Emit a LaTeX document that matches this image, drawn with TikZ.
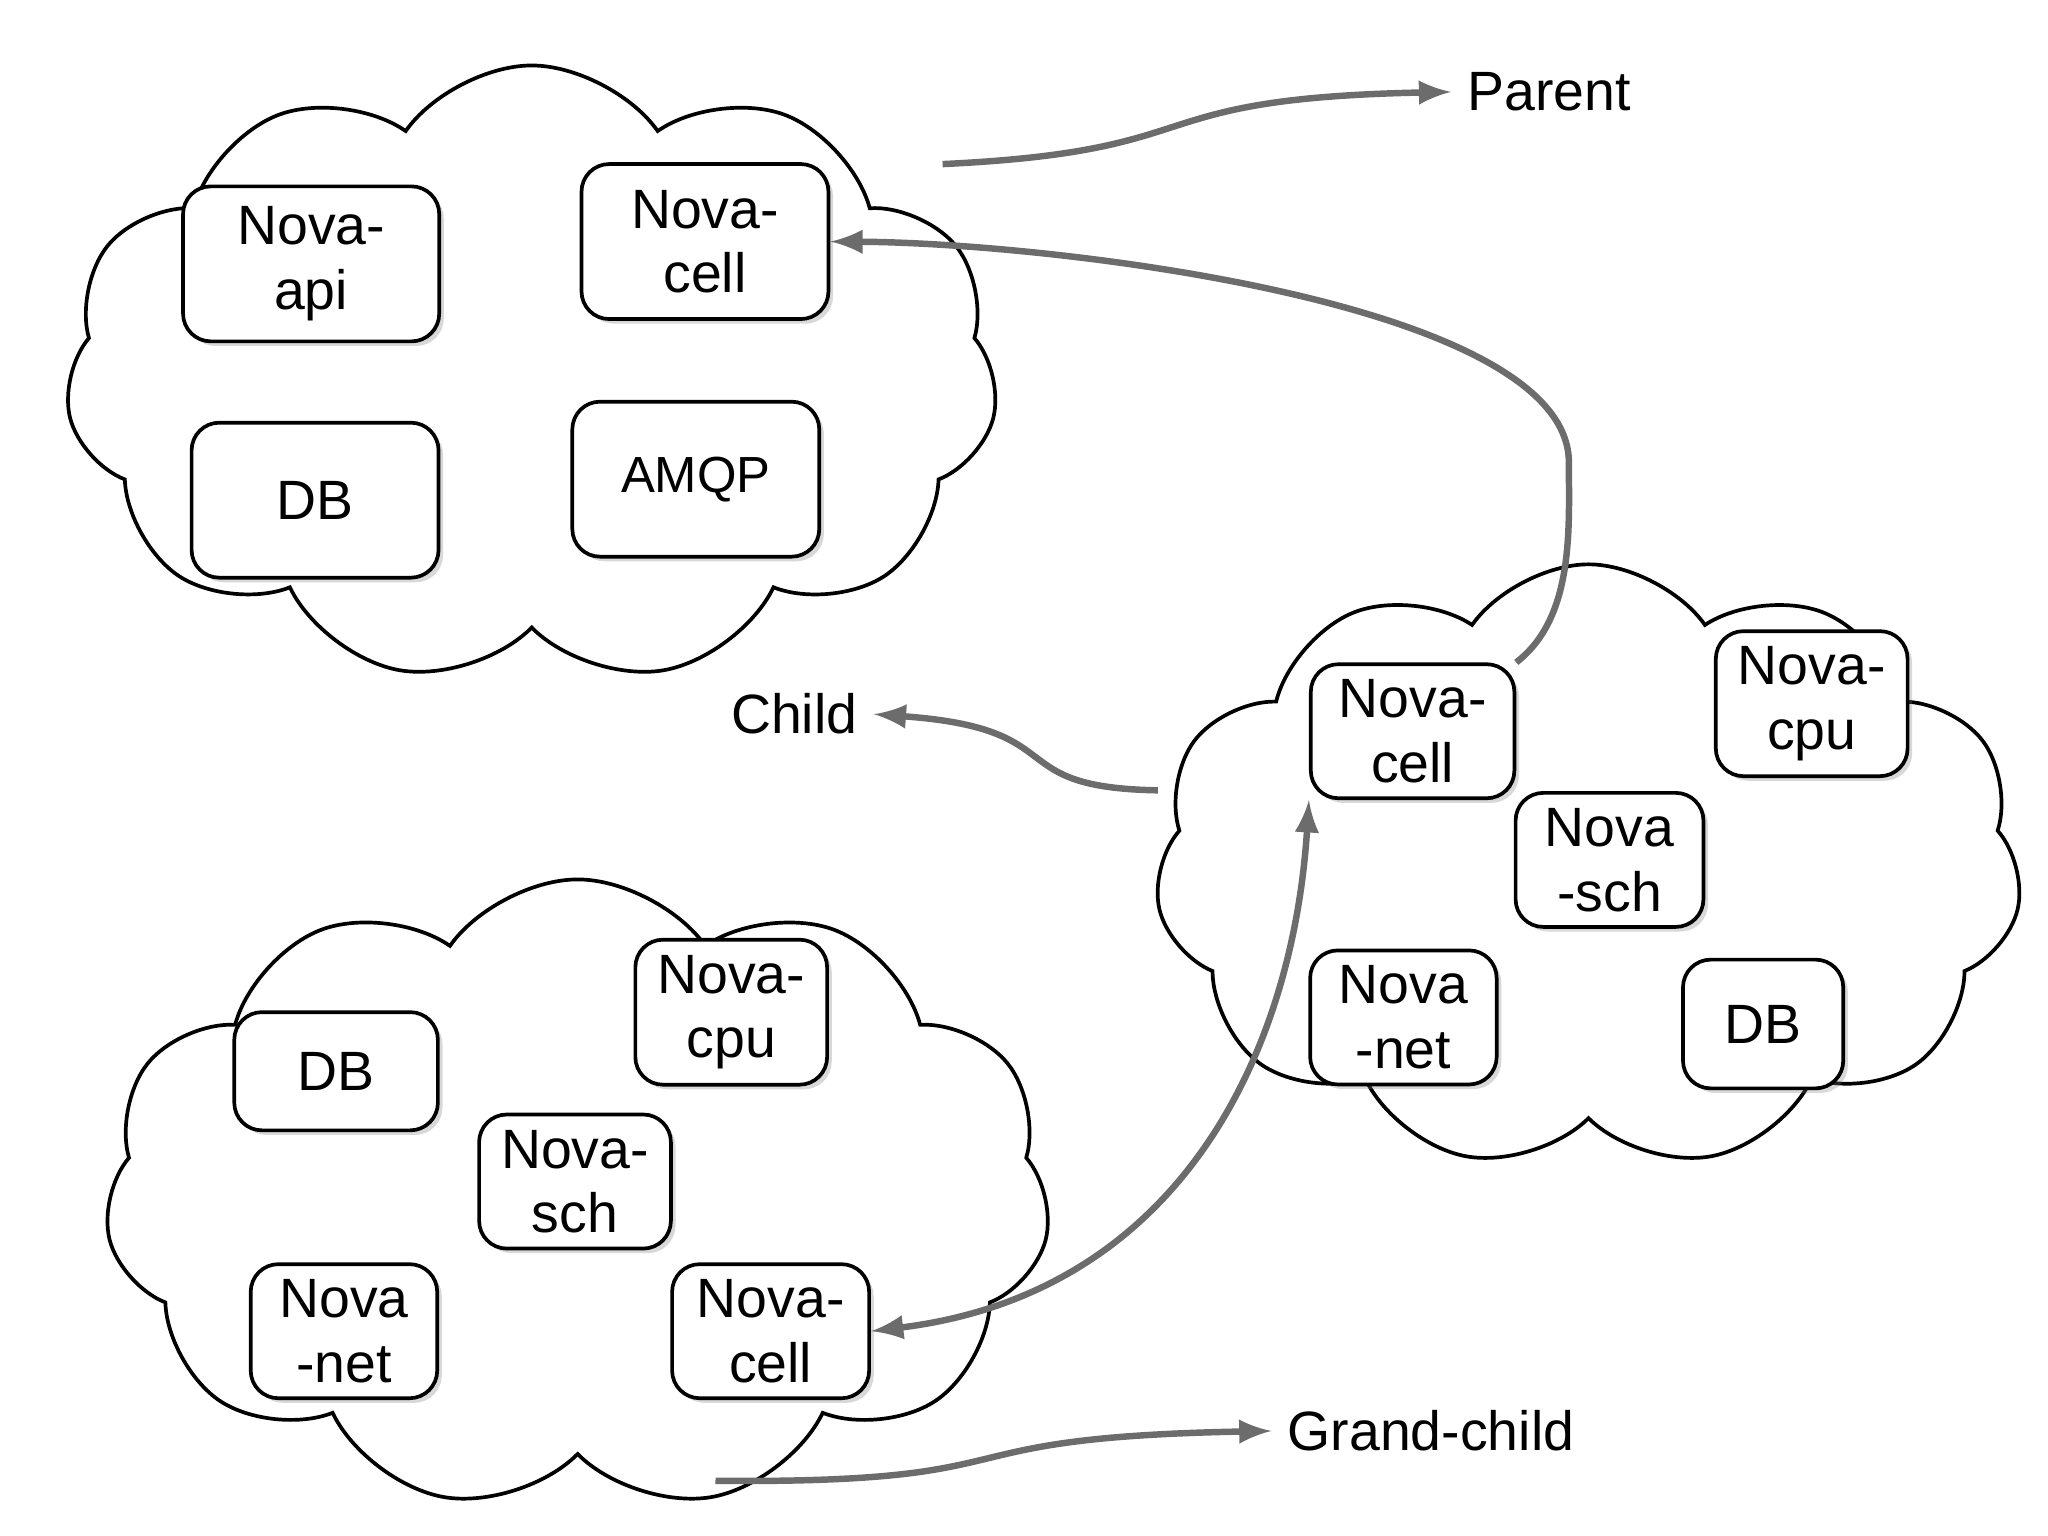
\documentclass[tikz,border=0pt]{standalone}
\usepackage{fontspec}
\setmainfont{Liberation Sans}
\usetikzlibrary{arrows,shapes,shapes.symbols,positioning,shadows}
\begin{document}
\begin{tikzpicture}[
  >=latex,
  x=0.01cm, y=-0.01cm,
  cloudy/.style={cloud, draw, cloud puffs=11, cloud puff arc=110, aspect=1.5, line width=0.8pt, fill=white},
  box/.style={draw, rounded corners=6pt, fill=white, line width=0.8pt, align=center,
    font=\fontsize{12}{14}\selectfont, drop shadow={shadow xshift=1pt, shadow yshift=-1pt, opacity=0.3}},
  lbl/.style={font=\fontsize{12}{14}\selectfont},
  link/.style={->, draw=gray!85!black, line width=1.4pt},
  ]
  \useasboundingbox (0,0) rectangle (1560,1170);
  % clouds
  \node[cloudy, minimum width=7.1cm, minimum height=4.7cm] (parentcloud) at (405,285) {};
  \node[cloudy, minimum width=6.6cm, minimum height=4.6cm] (childcloud) at (1210,660) {};
  \node[cloudy, minimum width=7.2cm, minimum height=4.8cm] (gcloud) at (440,910) {};
  % parent cell
  \node[box, minimum width=1.95cm, minimum height=1.18cm] (papi) at (237,201) {Nova-\\api};
  \node[box, minimum width=1.88cm, minimum height=1.18cm] (pcell) at (537,184) {Nova-\\cell};
  \node[box, minimum width=1.88cm, minimum height=1.18cm] (pdb) at (240,381) {DB};
  \node[box, minimum width=1.88cm, minimum height=1.18cm, font=\fontsize{11}{13}\selectfont] (pamqp) at (530,365) {AMQP};
  % child cell
  \node[box, minimum width=1.55cm, minimum height=0.9cm] (ccell) at (1076,557) {Nova-\\cell};
  \node[box, minimum width=1.46cm, minimum height=0.9cm] (ccpu) at (1380,536) {Nova-\\cpu};
  \node[box, minimum width=1.43cm, minimum height=0.98cm] (csch) at (1226,655) {Nova\\-sch};
  \node[box, minimum width=1.42cm, minimum height=0.98cm] (cnet) at (1069,775) {Nova\\-net};
  \node[box, minimum width=1.22cm, minimum height=0.98cm] (cdb) at (1343,780) {DB};
  % grand-child cell
  \node[box, minimum width=1.55cm, minimum height=0.9cm] (gdb) at (256,816) {DB};
  \node[box, minimum width=1.46cm, minimum height=0.9cm] (gcpu) at (557,771) {Nova-\\cpu};
  \node[box, minimum width=1.46cm, minimum height=1.0cm] (gsch) at (438,900) {Nova-\\sch};
  \node[box, minimum width=1.42cm, minimum height=0.98cm] (gnet) at (262,1014) {Nova\\-net};
  \node[box, minimum width=1.5cm, minimum height=0.98cm] (gcell) at (587,1014) {Nova-\\cell};
  % labels
  \node[lbl] (parent) at (1180,70) {Parent};
  \node[lbl] (child) at (605,544) {Child};
  \node[lbl] (grandchild) at (1090,1090) {Grand-child};
  \coordinate (ptail) at (718,125);
  \coordinate (ctail) at (882,602);
  \coordinate (gtail) at (545,1128);
  \coordinate (bend) at (1195,350);

  \draw[link] (ptail) .. controls (930,115) and (860,75) .. (parent.west);
  \draw[link] (ctail) .. controls (760,600) and (820,555) .. (child.east);
  \draw[link] (gtail) .. controls (800,1130) and (700,1095) .. (grandchild.west);
  \draw[link] (ccell.north east) .. controls (1200,470) and (1195,400) .. (bend)
     .. controls (1190,230) and (800,185) .. (pcell.east);
  \draw[link, <->] (gcell.east) .. controls (900,985) and (985,800) .. (ccell.south west);
\end{tikzpicture}
\end{document}
